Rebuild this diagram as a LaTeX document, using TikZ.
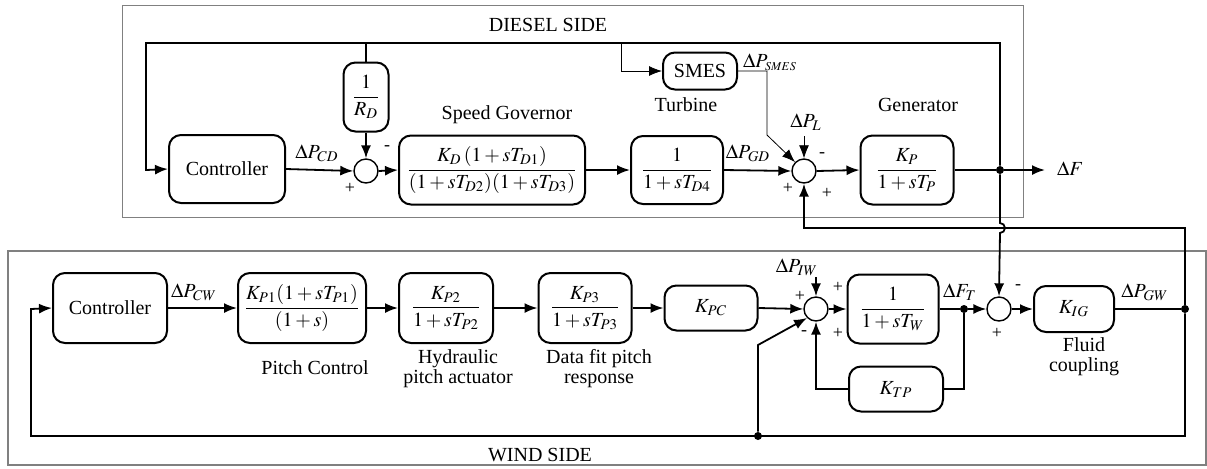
\documentclass[tikz,border=0pt]{standalone}
\usepackage{amsmath}
\usepackage{mathptmx}
\usepackage[no-math]{fontspec}
\setmainfont{Liberation Serif}
\usepackage{tikz}
\usetikzlibrary{shapes, arrows, arrows.meta, positioning, calc}

\tikzset{
    blk/.style={draw, line width=1pt, rounded corners=6pt, align=center, inner sep=1pt},
    sumj/.style={draw, circle, minimum size=12pt, inner sep=0pt, line width=0.7pt},
    pick/.style={circle, fill, inner sep=0pt, minimum size=4pt},
    sgn/.style={font=\small, inner sep=0pt},
    sig/.style={anchor=south, inner sep=1pt},
    wire/.style={line width=0.9pt},
    frame/.style={draw=gray, line width=0.6pt}
}

\begin{document}
\begin{tikzpicture}[x=0.5pt, y=-0.5pt, >={Latex[length=6.5pt, width=5pt]}]
    \useasboundingbox (0,0) rectangle (1207,468);

    % Side frames
    \draw[frame, line width=0.4pt] (122,5) rectangle (1023,217);
    \draw[frame] (8,251) rectangle (1206,465);
    \node (dside) at (548,25) {DIESEL SIDE};
    \node (wside) at (540,455) {WIND SIDE};

    % Diesel side blocks
    \node[blk, minimum width=58pt, minimum height=34pt] (dctrl) at (227,169) {Controller};
    \node[sumj] (dsum1) at (366,171) {};
    \node[blk, minimum width=22.5pt, minimum height=34.5pt] (rd) at (366,97) {$\dfrac{1}{R_D}$};
    \node[blk, minimum width=93pt, minimum height=34.5pt] (gov) at (492,170)
        {$\dfrac{K_D\,(1+sT_{D1})}{(1+sT_{D2})(1+sT_{D3})}$};
    \node[blk, minimum width=46pt, minimum height=34pt] (turb) at (677,170) {$\dfrac{1}{1+sT_{D4}}$};
    \node[sumj] (dsum2) at (804,171) {};
    \node[blk, minimum width=46.5pt, minimum height=34.5pt] (gen) at (907,170) {$\dfrac{K_P}{1+sT_P}$};
    \node[blk, minimum width=37pt, minimum height=18.5pt] (smes) at (700,71) {SMES};
    \node[pick] (dpick) at (1000,170) {};
    \coordinate (dout) at (1045,170);
    \coordinate (pl) at (804,136);

    % Diesel side labels
    \node (lgov) at (507,115) {Speed Governor};
    \node (lturb) at (686,105) {Turbine};
    \node (lgen) at (918,105) {Generator};
    \node[sig] (pcd) at (317,164) {$\Delta P_{CD}$};
    \node[sig] (pgd) at (748,164) {$\Delta P_{GD}$};
    \node (psmes) at (770,62) {$\Delta P_{\scriptscriptstyle SMES}$};
    \node (ppl) at (806,122) {$\Delta P_L$};
    \node[anchor=west] (df) at (1050,169) {$\Delta F$};
    \node[sgn] at (350,188) {+};
    \node[sgn] at (387,148) {-};
    \node[sgn] at (822,155) {-};
    \node[sgn] at (788,188) {+};
    \node[sgn] at (827,193) {+};

    % Diesel side connectors
    \draw[wire, ->] (dpick) -- (1000,43) -| (146,170) -- (dctrl.west);
    \draw[wire] (rd.north) -- (366,43);
    \draw[wire, ->] (rd.south) -- (dsum1.north);
    \draw[wire, ->] (dctrl.east) -- (dsum1.west);
    \draw[wire, ->] (dsum1.east) -- (gov.west);
    \draw[wire, ->] (gov.east) -- (turb.west);
    \draw[wire, ->] (turb.east) -- (dsum2.west);
    \draw[wire, ->] (dsum2.east) -- (gen.west);
    \draw[wire] (gen.east) -- (dpick);
    \draw[wire, ->] (dpick) -- (dout);
    \draw[->] (621,43) |- (smes.west);
    \draw[->] (smes.east) -| (767,135) -- (dsum2.north west);
    \draw[->] (pl) -- (dsum2.north);

    % Wind side blocks
    \node[blk, minimum width=57pt, minimum height=35pt] (wctrl) at (110,308) {Controller};
    \node[blk, minimum width=64pt, minimum height=35pt] (pitch) at (302,308)
        {$\dfrac{K_{P1}(1+sT_{P1})}{(1+s)}$};
    \node[blk, minimum width=47pt, minimum height=35pt] (hyd) at (446,308) {$\dfrac{K_{P2}}{1+sT_{P2}}$};
    \node[blk, minimum width=46.5pt, minimum height=35pt] (dfit) at (585,308) {$\dfrac{K_{P3}}{1+sT_{P3}}$};
    \node[blk, minimum width=46.5pt, minimum height=22.5pt] (kpc) at (711,308) {$K_{PC}$};
    \node[sumj] (wsum1) at (816,309) {};
    \node[blk, minimum width=45.5pt, minimum height=34.5pt] (tw) at (893,309) {$\dfrac{1}{1+sT_W}$};
    \node[blk, minimum width=47pt, minimum height=22.5pt] (ktp) at (896,389) {$K_{TP}$};
    \node[pick] (ftpick) at (964,309) {};
    \node[sumj] (wsum2) at (999,309) {};
    \node[blk, minimum width=40pt, minimum height=23pt] (kig) at (1074,309) {$K_{IG}$};
    \node[pick] (gwpick) at (1185,309) {};
    \node[pick] (fbdot) at (758,436) {};
    \coordinate (piw) at (816,277);

    % Wind side labels
    \node (lpitch) at (315,368) {Pitch Control};
    \node[align=center] (lhyd) at (458,369) {Hydraulic\\[-2pt]pitch actuator};
    \node[align=center] (ldfit) at (599,369) {Data fit pitch\\[-2pt]response};
    \node[align=center] (lkig) at (1084,357) {Fluid\\[-2pt]coupling};
    \node[sig] (pcw) at (194,303) {$\Delta P_{CW}$};
    \node (piwl) at (797,267) {$\Delta P_{IW}$};
    \node[sig] (ftl) at (960,303) {$\Delta F_T$};
    \node[sig] (pgw) at (1145,303) {$\Delta P_{GW}$};
    \node[sgn] at (800,296) {+};
    \node[sgn] at (804,333) {-};
    \node[sgn] at (838,287) {+};
    \node[sgn] at (838,333) {+};
    \node[sgn] at (1018,287) {-};
    \node[sgn] at (997,333) {+};

    % Wind side connectors
    \draw[wire, ->] (wctrl.east) -- (pitch.west);
    \draw[wire, ->] (pitch.east) -- (hyd.west);
    \draw[wire, ->] (hyd.east) -- (dfit.west);
    \draw[wire, ->] (dfit.east) -- (kpc.west);
    \draw[wire, ->] (kpc.east) -- (wsum1.west);
    \draw[wire, ->] (piw) -- (wsum1.north);
    \draw[wire, ->] (wsum1.east) -- (tw.west);
    \draw[wire] (tw.east) -- (ftpick);
    \draw[wire, ->] (ftpick) -- (wsum2.west);
    \draw[wire] (ftpick) |- (ktp.east);
    \draw[wire, ->] (ktp.west) -| (wsum1.south);
    \draw[wire, ->] (wsum2.east) -- (kig.west);
    \draw[wire] (kig.east) -- (gwpick);
    \draw[wire, ->] (gwpick) -- (1185,436) -| (31,309) -- (wctrl.west);
    \draw[wire, ->] (fbdot) -- (758,345) -- (wsum1.south west);

    % Links between the two sides
    \draw[wire, ->] (gwpick) -- (1185,228) -| (dsum2.south);
    \draw[wire, ->] (dpick) -- (1000,223) arc[start angle=-90, end angle=90, radius=5] -- (wsum2.north);
\end{tikzpicture}
\end{document}
